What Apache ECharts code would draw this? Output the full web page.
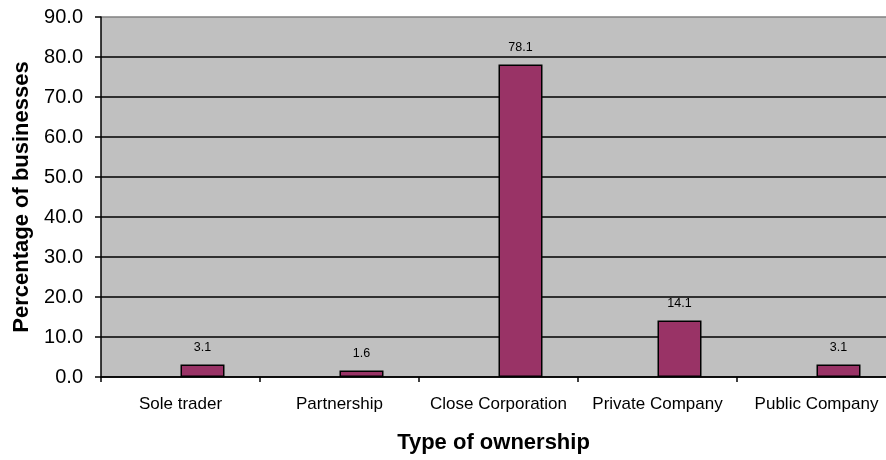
<!DOCTYPE html>
<html>
<head>
<meta charset="utf-8">
<script src="https://cdn.jsdelivr.net/npm/echarts@6/dist/echarts.min.js"></script>
<style>
  html, body { margin: 0; padding: 0; background: #fff; }
  #chart { width: 886px; height: 460px; }
</style>
</head>
<body>
<div id="chart"></div>
<script>
// ownership types and share of businesses (%)
const categories = ['Sole trader', 'Partnership', 'Close Corporation', 'Private Company', 'Public Company']
const percentages = [3.1, 1.6, 78.1, 14.1, 3.1]
// Excel left an empty first series, so the bars sit right of centre
const emptySeries = ['-', '-', '-', '-', '-']

const textStyle = {
  fontFamily: 'Liberation Sans, Arial, sans-serif',
  color: '#000'
}

const chart = echarts.init(document.getElementById('chart'))

chart.setOption({
  animation: false,
  grid: {
    // plot runs a little past the right edge of the picture
    left: 101,
    width: 795,
    top: 17,
    height: 360,
    outerBoundsMode: 'none',
    containLabel: false,
    show: true,
    backgroundColor: '#C0C0C0',
    borderWidth: 0
  },
  xAxis: {
    type: 'category',
    data: categories,
    name: 'Type of ownership',
    nameLocation: 'middle',
    nameGap: 55,
    nameTextStyle: Object.assign({}, textStyle, { fontSize: 22, fontWeight: 'bold', padding: [0, 0, 0, -10] }),
    axisLine: { lineStyle: { color: '#000', width: 1.5 } },
    axisTick: { show: true, length: 5, lineStyle: { color: '#000', width: 1.5 } },
    axisLabel: Object.assign({}, textStyle, { fontSize: 17, margin: 19, interval: 0, hideOverlap: false }),
    splitLine: { show: false }
  },
  yAxis: {
    type: 'value',
    min: 0,
    max: 90,
    interval: 10,
    name: 'Percentage of businesses',
    nameLocation: 'middle',
    nameGap: 63,
    nameTextStyle: Object.assign({}, textStyle, { fontSize: 22, fontWeight: 'bold' }),
    axisLine: { show: true, lineStyle: { color: '#000', width: 1.5 } },
    axisTick: { show: true, inside: false, length: 6, lineStyle: { color: '#000', width: 1.5 } },
    axisLabel: Object.assign({}, textStyle, {
      fontSize: 20,
      margin: 18,
      formatter: v => v.toFixed(1)
    }),
    splitLine: {
      show: true,
      lineStyle: {
        color: ['#000', '#000', '#000', '#000', '#000', '#000', '#000', '#000', '#000', '#808080'],
        width: 1.5
      }
    }
  },
  series: [
    {
      type: 'bar',
      data: emptySeries,
      barWidth: 44,
      barGap: '0%'
    },
    {
      type: 'bar',
      data: percentages,
      barWidth: 44,
      barGap: '0%',
      itemStyle: { color: '#993366', borderColor: '#000', borderWidth: 1.5 },
      label: {
        show: true,
        position: 'top',
        distance: 11,
        fontSize: 12.5,
        fontFamily: 'Liberation Sans, Arial, sans-serif',
        color: '#000',
        formatter: p => p.value.toFixed(1)
      }
    }
  ]
})
</script>
</body>
</html>
